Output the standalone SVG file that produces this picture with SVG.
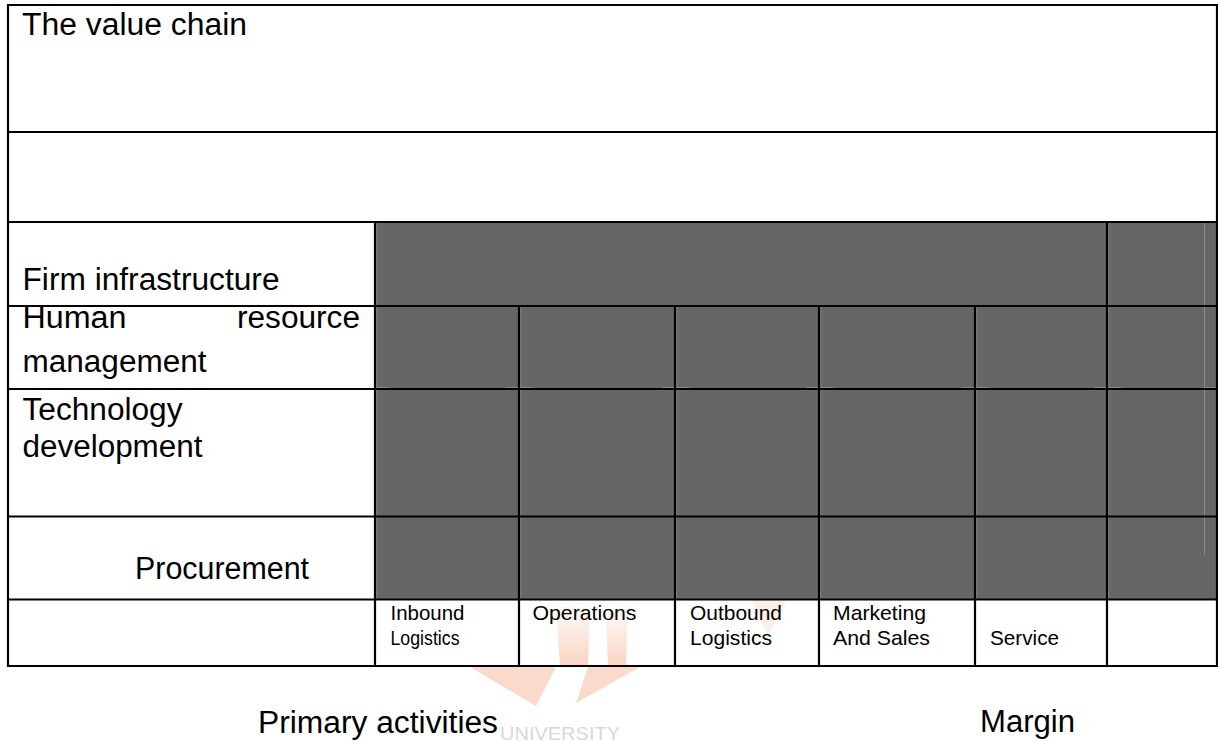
<svg xmlns="http://www.w3.org/2000/svg" width="1218" height="742" viewBox="0 0 1218 742">
  <style>
    .lbl { font-family: "Liberation Sans", Arial, sans-serif; fill: #000; }
    .big { font-size: 31px; }
    .sm { font-size: 21px; }
    .cell { fill: #666666; }
    .grid line { stroke: #000; stroke-width: 2.2; }
    .hl line { stroke: #8a8a8a; stroke-width: 1; }
    .tick line { stroke: #a8a8a8; stroke-width: 1; }
  </style>

  <rect x="0" y="0" width="1218" height="742" fill="#fff"/>

  <!-- faint crest behind the lower rows -->
  <defs>
    <linearGradient id="fadeUp" x1="0" y1="1" x2="0" y2="0">
      <stop offset="0" stop-color="#f7c9b2" stop-opacity="0.8"/>
      <stop offset="1" stop-color="#f7c9b2" stop-opacity="0"/>
    </linearGradient>
  </defs>
  <g id="crest">
    <polygon points="470,667 556,667 536,706" fill="#f8cfba" opacity="0.75"/>
    <polygon points="588,667 640,667 576,703" fill="#f8cfba" opacity="0.75"/>
    <polygon points="556,610 590,600 588,666 560,666" fill="url(#fadeUp)"/>
    <polygon points="606,612 628,602 626,666 608,666" fill="url(#fadeUp)"/>
    <polygon points="752,600 786,600 768,636" fill="#fbe3d6" opacity="0.6"/>
    <text x="500" y="740" font-family="Liberation Sans, Arial, sans-serif" font-size="19" fill="#d8d8d8" textLength="120" lengthAdjust="spacingAndGlyphs">UNIVERSITY</text>
  </g>

  <!-- shaded activity cells -->
  <g id="cells">
    <rect class="cell" x="375" y="222" width="732" height="84"/>
    <rect class="cell" x="1107" y="222" width="110" height="84"/>
    <rect class="cell" x="375" y="306" width="842" height="293.5"/>
  </g>

  <!-- lighter edge lines inside the shaded cells -->
  <g class="hl">
    <line x1="376.7" y1="223" x2="376.7" y2="599"/>
    <line x1="520.7" y1="307" x2="520.7" y2="599"/>
    <line x1="676.7" y1="307" x2="676.7" y2="599"/>
    <line x1="820.7" y1="307" x2="820.7" y2="599"/>
    <line x1="976.7" y1="307" x2="976.7" y2="599"/>
    <line x1="1108.7" y1="223" x2="1108.7" y2="599"/>
    <line x1="1204.5" y1="223" x2="1204.5" y2="555" stroke="#737373"/>
  </g>
  <g class="tick">
    <line x1="376" y1="388" x2="389" y2="388"/>
    <line x1="506" y1="388" x2="518" y2="388"/>
    <line x1="520" y1="388" x2="533" y2="388"/>
    <line x1="662" y1="388" x2="674" y2="388"/>
    <line x1="676" y1="388" x2="689" y2="388"/>
    <line x1="806" y1="388" x2="818" y2="388"/>
    <line x1="820" y1="388" x2="833" y2="388"/>
    <line x1="962" y1="388" x2="974" y2="388"/>
    <line x1="976" y1="388" x2="989" y2="388"/>
    <line x1="1094" y1="388" x2="1106" y2="388"/>
    <line x1="1108" y1="388" x2="1121" y2="388"/>
    <line x1="1204" y1="388" x2="1216" y2="388"/>
  </g>

  <!-- table rules -->
  <g id="connectors" class="grid">
    <line x1="7" y1="5" x2="1218" y2="5"/>
    <line x1="7" y1="132" x2="1218" y2="132"/>
    <line x1="7" y1="222" x2="1218" y2="222"/>
    <line x1="7" y1="306" x2="1218" y2="306"/>
    <line x1="7" y1="389" x2="1218" y2="389"/>
    <line x1="7" y1="516.5" x2="1218" y2="516.5"/>
    <line x1="7" y1="599.5" x2="1218" y2="599.5"/>
    <line x1="7" y1="666" x2="1218" y2="666"/>
    <line x1="8" y1="4" x2="8" y2="667"/>
    <line x1="1217" y1="4" x2="1217" y2="667"/>
    <line x1="375" y1="222" x2="375" y2="667"/>
    <line x1="519" y1="306" x2="519" y2="667"/>
    <line x1="675" y1="306" x2="675" y2="667"/>
    <line x1="819" y1="306" x2="819" y2="667"/>
    <line x1="975" y1="306" x2="975" y2="667"/>
    <line x1="1107" y1="222" x2="1107" y2="667"/>
  </g>

  <g id="title">
    <text class="lbl big" x="22" y="35" textLength="225" lengthAdjust="spacingAndGlyphs">The value chain</text>
  </g>

  <g id="firm-infrastructure">
    <text class="lbl big" x="22.5" y="290" textLength="257" lengthAdjust="spacingAndGlyphs">Firm infrastructure</text>
  </g>
  <g id="human-resource-management">
    <text class="lbl big" x="22.5" y="328" textLength="104" lengthAdjust="spacingAndGlyphs">Human</text>
    <text class="lbl big" x="237" y="328" textLength="123" lengthAdjust="spacingAndGlyphs">resource</text>
    <text class="lbl big" x="22.5" y="372" textLength="184" lengthAdjust="spacingAndGlyphs">management</text>
  </g>
  <g id="technology-development">
    <text class="lbl big" x="22.5" y="420" textLength="160" lengthAdjust="spacingAndGlyphs">Technology</text>
    <text class="lbl big" x="22.5" y="457" textLength="180" lengthAdjust="spacingAndGlyphs">development</text>
  </g>
  <g id="procurement">
    <text class="lbl big" x="135" y="579" textLength="174" lengthAdjust="spacingAndGlyphs">Procurement</text>
  </g>

  <g id="inbound-logistics">
    <text class="lbl sm" x="390.5" y="620" textLength="74" lengthAdjust="spacingAndGlyphs">Inbound</text>
    <text class="lbl sm" x="390.5" y="645" textLength="69" lengthAdjust="spacingAndGlyphs">Logistics</text>
  </g>
  <g id="operations">
    <text class="lbl sm" x="532.5" y="620" textLength="104" lengthAdjust="spacingAndGlyphs">Operations</text>
  </g>
  <g id="outbound-logistics">
    <text class="lbl sm" x="690" y="620" textLength="92" lengthAdjust="spacingAndGlyphs">Outbound</text>
    <text class="lbl sm" x="690" y="645" textLength="82" lengthAdjust="spacingAndGlyphs">Logistics</text>
  </g>
  <g id="marketing-and-sales">
    <text class="lbl sm" x="833" y="620" textLength="93" lengthAdjust="spacingAndGlyphs">Marketing</text>
    <text class="lbl sm" x="833" y="644.5" textLength="97" lengthAdjust="spacingAndGlyphs">And Sales</text>
  </g>
  <g id="service">
    <text class="lbl sm" x="990" y="645" textLength="69" lengthAdjust="spacingAndGlyphs">Service</text>
  </g>

  <g id="primary-activities">
    <text class="lbl big" x="258" y="733" textLength="240" lengthAdjust="spacingAndGlyphs">Primary activities</text>
  </g>
  <g id="margin">
    <text class="lbl big" x="980" y="732" textLength="95" lengthAdjust="spacingAndGlyphs">Margin</text>
  </g>
</svg>
